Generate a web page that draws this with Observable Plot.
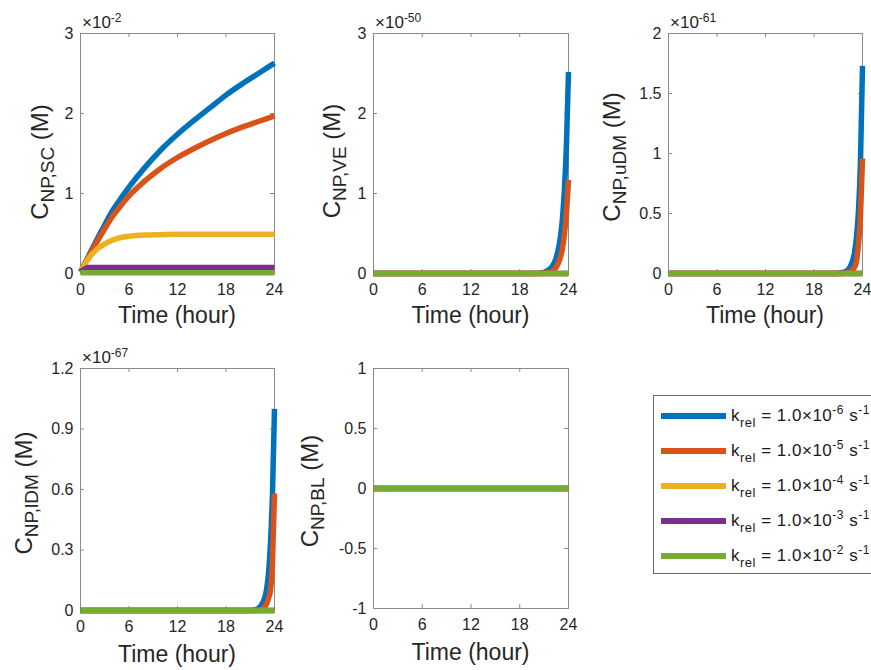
<!DOCTYPE html>
<html><head><meta charset="utf-8">
<script src="https://cdn.jsdelivr.net/npm/d3@7"></script>
<script src="https://cdn.jsdelivr.net/npm/@observablehq/plot@0.6"></script>
<style>
body{margin:0;background:#fff;overflow:hidden;font-family:"Liberation Sans",Arial,sans-serif;}
#root{position:relative;width:871px;height:670px;overflow:hidden;background:#fff;}
.panel{position:absolute;}
.legend{position:absolute;left:653px;top:395px;width:250px;height:179px;border:1px solid #6a6a6a;background:#fff;box-sizing:border-box;}
.row{position:absolute;left:0;height:20px;line-height:20px;font-size:17px;letter-spacing:0.5px;color:#1a1a1a;white-space:nowrap;}
.sw{position:absolute;left:7px;top:7px;width:65px;height:6px;}
.tx{position:absolute;left:77px;top:0;}
.sb{font-size:13px;position:relative;top:6px;}
.sp{font-size:12px;position:relative;top:-7px;}
</style>
</head><body><div id="root"></div>
<script>
// ---- data ----
const hourTicks = [0, 6, 12, 18, 24];
const exponents = ["-6", "-5", "-4", "-3", "-2"];           // k_rel = 1.0×10^e s^-1
const colors = ["#0072BD", "#D95319", "#EDB120", "#7E2F8E", "#77AC30"];

// Panel 1: C_NP,SC (×10^-2 M)
const tSC = [0, 1, 2, 3, 4, 5, 6, 8, 10, 12, 14, 16, 18, 20, 22, 24];
const scBlue   = [0.02, 0.22, 0.42, 0.61, 0.79, 0.94, 1.08, 1.33, 1.55, 1.74, 1.91, 2.07, 2.23, 2.37, 2.50, 2.63];
const scOrange = [0.02, 0.21, 0.39, 0.56, 0.72, 0.85, 0.97, 1.16, 1.32, 1.45, 1.56, 1.66, 1.75, 1.83, 1.90, 1.97];
const scYellow = [0.02, 0.19, 0.30, 0.37, 0.42, 0.45, 0.465, 0.48, 0.485, 0.49, 0.49, 0.49, 0.49, 0.49, 0.49, 0.49];
const scPurple = [0.02, 0.075, 0.075, 0.075, 0.075, 0.075, 0.075, 0.075, 0.075, 0.075, 0.075, 0.075, 0.075, 0.075, 0.075, 0.075];
const scGreen  = [0.008, 0.008, 0.008, 0.008, 0.008, 0.008, 0.008, 0.008, 0.008, 0.008, 0.008, 0.008, 0.008, 0.008, 0.008, 0.008];

// Panels 2-4: late rise
const tLate = [0, 20, 20.5, 21, 21.5, 22, 22.5, 23, 23.25, 23.5, 23.75, 24];
const lateZero = [0, 0, 0, 0, 0, 0, 0, 0, 0, 0, 0, 0];
// C_NP,VE (×10^-50 M)
const veBlue   = [0, 0, 0.005, 0.015, 0.04, 0.09, 0.2, 0.45, 0.68, 1.05, 1.62, 2.52];
const veOrange = [0, 0, 0, 0.004, 0.012, 0.03, 0.08, 0.2, 0.31, 0.49, 0.76, 1.17];
// C_NP,uDM (×10^-61 M)
const udmBlue   = [0, 0, 0, 0.003, 0.008, 0.02, 0.06, 0.17, 0.3, 0.52, 0.93, 1.73];
const udmOrange = [0, 0, 0, 0, 0, 0.005, 0.015, 0.05, 0.1, 0.24, 0.48, 0.96];
// C_NP,lDM (×10^-67 M)
const ldmBlue   = [0, 0, 0, 0, 0.003, 0.01, 0.035, 0.1, 0.18, 0.33, 0.58, 1.0];
const ldmOrange = [0, 0, 0, 0, 0, 0, 0.008, 0.03, 0.06, 0.1, 0.24, 0.58];
// C_NP,BL (M)
const tBL = [0, 24];
const blZero = [0, 0];

const panels = [
  {left:0, top:0, width:290, height:340, ml:80, mr:16, mt:33, mb:67,
   yDomain:[0,3], yTicks:[0,1,2,3], t:tSC, series:[scBlue, scOrange, scYellow, scPurple, scGreen],
   sub:"NP,SC", exp:"-2", labX:48, labY:162, expX:82, expY:28, xlabY:323},
  {left:290, top:0, width:290, height:340, ml:83, mr:12, mt:33, mb:67,
   yDomain:[0,3], yTicks:[0,1,2,3], t:tLate, series:[veBlue, veOrange, lateZero, lateZero, lateZero],
   sub:"NP,VE", exp:"-50", labX:50, labY:161, expX:85, expY:28, xlabY:323},
  {left:580, top:0, width:291, height:340, ml:88, mr:9, mt:33, mb:67,
   yDomain:[0,2], yTicks:[0,0.5,1,1.5,2], t:tLate, series:[udmBlue, udmOrange, lateZero, lateZero, lateZero],
   sub:"NP,uDM", exp:"-61", labX:40, labY:157, expX:90, expY:28, xlabY:323},
  {left:0, top:340, width:290, height:330, ml:80, mr:16, mt:28, mb:60,
   yDomain:[0,1.2], yTicks:[0,0.3,0.6,0.9,1.2], t:tLate, series:[ldmBlue, ldmOrange, lateZero, lateZero, lateZero],
   sub:"NP,lDM", exp:"-67", labX:32, labY:153, expX:82, expY:23, xlabY:322},
  {left:290, top:340, width:290, height:330, ml:83, mr:12, mt:28, mb:62,
   yDomain:[-1,1], yTicks:[-1,-0.5,0,0.5,1], t:tBL, series:[blZero, blZero, blZero, blZero, blZero],
   sub:"NP,BL", exp:null, labX:28, labY:151, expX:0, expY:0, xlabY:320}
];

const root = document.getElementById("root");
const FRAME = "#8a8a8a", TXT = "#262626";
const FONT = "'Liberation Sans', Arial, sans-serif";

panels.forEach(p => {
  const plotW = p.width - p.ml - p.mr, plotH = p.height - p.mt - p.mb;
  const rows = [];
  p.series.forEach((vals, si) => vals.forEach((v, i) => rows.push({t: p.t[i], v, s: si})));
  const lineMarks = p.series.map((_, si) =>
    Plot.line(rows.filter(r => r.s === si), {x:"t", y:"v", stroke: colors[si], strokeWidth:5.5,
      strokeLinecap:"butt", strokeLinejoin:"round", curve:"monotone-x"}));
  const chart = Plot.plot({
    width:p.width, height:p.height,
    marginLeft:p.ml, marginRight:p.mr, marginTop:p.mt, marginBottom:p.mb,
    x:{domain:[0,24]}, y:{domain:p.yDomain},
    style:{fontFamily:FONT, background:"transparent", overflow:"visible", color:TXT},
    marks:[
      Plot.frame({stroke:FRAME, strokeWidth:1}),
      Plot.tickX(hourTicks, {x:d=>d, stroke:FRAME, insetTop:plotH-4}),
      Plot.tickX(hourTicks, {x:d=>d, stroke:FRAME, insetBottom:plotH-4}),
      Plot.tickY(p.yTicks, {y:d=>d, stroke:FRAME, insetRight:plotW-4}),
      Plot.tickY(p.yTicks, {y:d=>d, stroke:FRAME, insetLeft:plotW-4}),
      Plot.axisX(hourTicks, {tickSize:0, tickPadding:10, fontSize:16, fill:TXT, label:null}),
      Plot.axisY(p.yTicks, {tickSize:0, tickPadding:7, fontSize:16, fill:TXT, label:null, tickFormat:d=>String(d)}),
      ...lineMarks
    ]
  });
  const div = document.createElement("div");
  div.className = "panel";
  div.style.left = p.left + "px"; div.style.top = p.top + "px";
  div.appendChild(chart);
  root.appendChild(div);
  const svg = d3.select(chart);
  // y label
  const yl = svg.append("text")
    .attr("transform", `translate(${p.labX},${p.labY}) rotate(-90)`)
    .attr("text-anchor", "middle").attr("fill", TXT).attr("font-size", 24)
    .attr("font-family", FONT);
  yl.append("tspan").text("C");
  yl.append("tspan").attr("font-size", 19).attr("dy", 6).text(p.sub);
  yl.append("tspan").attr("dy", -6).text(" (M)");
  // x label
  svg.append("text").attr("x", p.ml + plotW/2).attr("y", p.xlabY)
    .attr("text-anchor", "middle").attr("fill", TXT).attr("font-size", 23)
    .attr("font-family", FONT).text("Time (hour)");
  // exponent
  if (p.exp) {
    const ex = svg.append("text").attr("x", p.expX).attr("y", p.expY).attr("fill", TXT)
      .attr("text-anchor", "start")
      .attr("font-size", 17).attr("font-family", FONT);
    ex.append("tspan").text("×10");
    ex.append("tspan").attr("font-size", 12).attr("dy", -6).text(p.exp);
  }
});

// legend
const leg = document.createElement("div");
leg.className = "legend";
exponents.forEach((e, i) => {
  const r = document.createElement("div");
  r.className = "row";
  r.style.top = (10 + 35 * i) + "px";
  r.innerHTML = `<div class="sw" style="background:${colors[i]}"></div>` +
    `<span class="tx">k<span class="sb">rel</span> = 1.0×10<span class="sp">${e}</span> s<span class="sp">-1</span></span>`;
  leg.appendChild(r);
});
root.appendChild(leg);
</script>
</body></html>
